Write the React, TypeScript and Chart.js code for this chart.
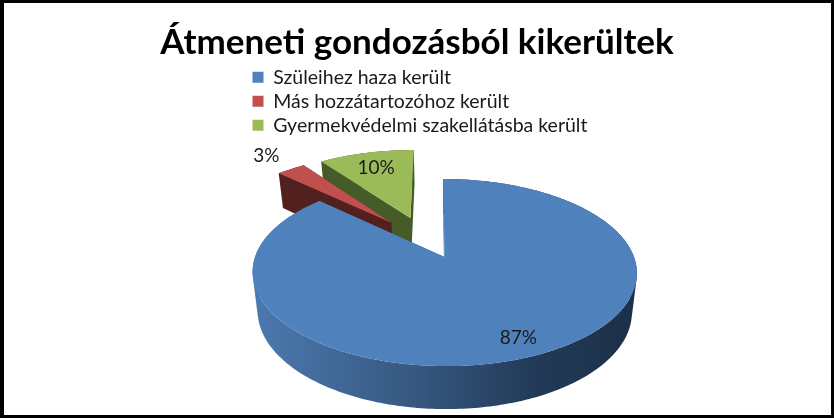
import { useEffect, useRef } from 'react';
import { Chart, registerables, type Plugin } from 'chart.js';

Chart.register(...registerables);

const TITLE = 'Átmeneti gondozásból kikerültek';
const CATEGORIES = ['Szüleihez haza került', 'Más hozzátartozóhoz került', 'Gyermekvédelmi szakellátásba került'];
const VALUES = [87, 3, 10];
const COLORS = ['#4f81bd', '#c0504d', '#9bbb59'];

const FONT = 'Lato, "Open Sans", sans-serif';

// how far each slice is pulled out of the pie, as a share of the radius
const EXPLODE = [[0, 0], [-0.295, -0.4], [-0.19, -0.461]];
const LABEL_RADIUS = [0.84, 1.28, 0.75];
const DRAW_ORDER = [2, 1, 0];

// perspective of the tilted disc
const CX = 444.5;
const CY = 257;
const RX = 189.5;
const RY = 91;
const PERSP = 0.166;
const SKEW = 1.5;

function project(u: number, v: number, lower: boolean) {
  const w = 1 - PERSP * v;
  const x = (RX * u + SKEW * v) / w;
  const y = (RY * v) / w;
  if (lower) return { x: CX + x * 0.974, y: CY + 38.3 + y * 1.043 };
  return { x: CX + x, y: CY + y };
}

function outline(start: number, end: number, off: number[]) {
  const pts: number[][] = [[off[0], off[1]]];
  const steps = Math.ceil(((end - start) * 180) / Math.PI);
  for (let i = 0; i <= steps; i++) {
    const a = start + ((end - start) * i) / steps;
    pts.push([off[0] + Math.cos(a), off[1] + Math.sin(a)]);
  }
  return pts;
}

const pie3d: Plugin<'pie'> = {
  id: 'pie3d',
  beforeDraw(chart) {
    const { ctx, width, height } = chart;
    ctx.save();
    ctx.fillStyle = '#000';
    ctx.fillRect(0, 0, width, height);
    ctx.fillStyle = '#fff';
    ctx.fillRect(4, 3, width - 7, height - 6);
    ctx.restore();
  },
  afterLayout(chart) {
    const legend = chart.legend as any;
    legend.left = 248;
    legend.top = 63;
    legend.right = 700;
    legend.bottom = 140;
  },
  // the library's flat arcs give the angles, the slices are painted tilted
  beforeDatasetDraw(chart) {
    const { ctx } = chart;
    const arcs = chart.getDatasetMeta(0).data as any[];
    const blueSide = ctx.createLinearGradient(254, 0, 630, 0);
    blueSide.addColorStop(0, '#4c79b0');
    blueSide.addColorStop(0.45, '#35567d');
    blueSide.addColorStop(0.75, '#223a58');
    blueSide.addColorStop(1, '#1d3049');
    const sides = [blueSide, '#52201e', '#465c28'];

    ctx.save();
    DRAW_ORDER.forEach((i) => {
      const pts = outline(arcs[i].startAngle, arcs[i].endAngle, EXPLODE[i]);
      ctx.fillStyle = sides[i];
      // one path for the whole wall, every quad wound the same way, so no seams
      ctx.beginPath();
      pts.forEach((p, k) => {
        const q = pts[(k + 1) % pts.length];
        let quad = [
          project(p[0], p[1], false),
          project(q[0], q[1], false),
          project(q[0], q[1], true),
          project(p[0], p[1], true),
        ];
        let area = 0;
        quad.forEach((a, n) => {
          const b = quad[(n + 1) % 4];
          area += a.x * b.y - b.x * a.y;
        });
        if (area < 0) quad = quad.reverse();
        quad.forEach((a, n) => (n === 0 ? ctx.moveTo(a.x, a.y) : ctx.lineTo(a.x, a.y)));
        ctx.closePath();
      });
      ctx.fill();
    });
    DRAW_ORDER.forEach((i) => {
      const pts = outline(arcs[i].startAngle, arcs[i].endAngle, EXPLODE[i]);
      ctx.fillStyle = arcs[i].options.backgroundColor;
      ctx.beginPath();
      pts.forEach((p, k) => {
        const s = project(p[0], p[1], false);
        if (k === 0) ctx.moveTo(s.x, s.y);
        else ctx.lineTo(s.x, s.y);
      });
      ctx.closePath();
      ctx.fill();
    });

    ctx.font = `19px ${FONT}`;
    ctx.fillStyle = '#1a1a1a';
    ctx.textAlign = 'center';
    ctx.textBaseline = 'middle';
    VALUES.forEach((value, i) => {
      const mid = (arcs[i].startAngle + arcs[i].endAngle) / 2;
      const r = LABEL_RADIUS[i];
      const s = project(EXPLODE[i][0] + r * Math.cos(mid), EXPLODE[i][1] + r * Math.sin(mid), false);
      ctx.fillText(`${value}%`, s.x, s.y);
    });
    ctx.restore();
    return false;
  },
};

export default function App() {
  const canvasRef = useRef<HTMLCanvasElement>(null);

  useEffect(() => {
    document.body.style.margin = '0';
    if (!canvasRef.current) return;
    const chart = new Chart(canvasRef.current, {
      type: 'pie',
      data: {
        labels: CATEGORIES,
        datasets: [{ data: VALUES, backgroundColor: COLORS, borderWidth: 0 }],
      },
      options: {
        responsive: false,
        animation: false,
        plugins: {
          title: {
            display: true,
            text: TITLE,
            color: '#000',
            font: { family: FONT, size: 35, weight: 'bold' },
            padding: { top: 22, bottom: 4 },
          },
          legend: {
            position: 'left',
            align: 'start',
            maxWidth: 450,
            labels: {
              boxWidth: 11,
              boxHeight: 11,
              padding: 4.5,
              color: '#1a1a1a',
              font: { family: FONT, size: 19.5 },
            },
          },
          tooltip: { enabled: false },
        },
      },
      plugins: [pie3d],
    });
    return () => chart.destroy();
  }, []);

  return <canvas ref={canvasRef} width={834} height={418} style={{ display: 'block' }} />;
}
